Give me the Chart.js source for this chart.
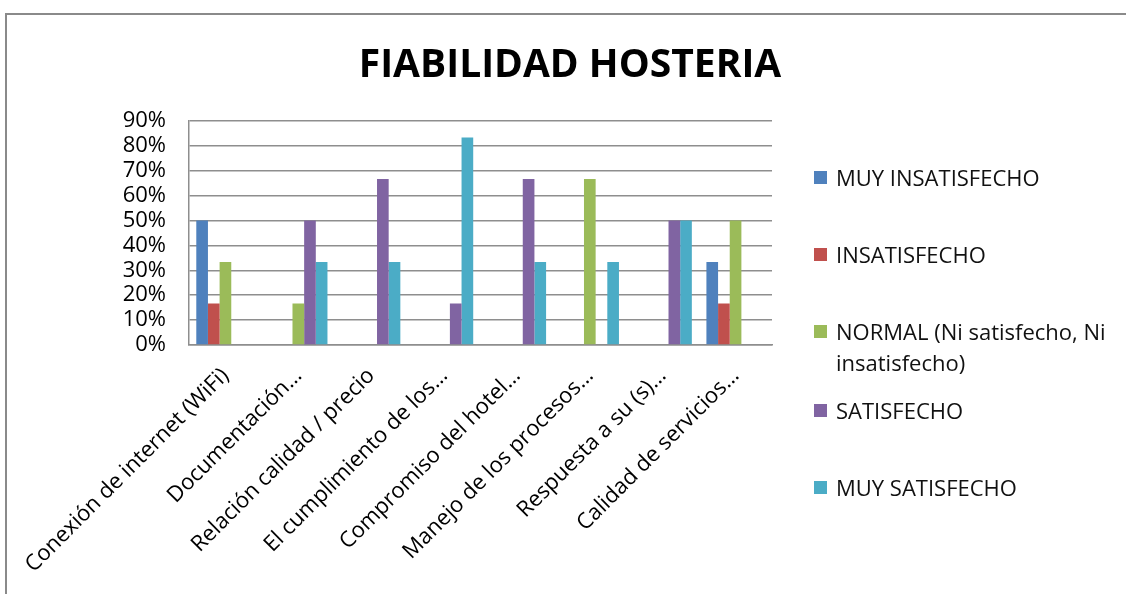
<!DOCTYPE html>
<html>
<head>
<meta charset="utf-8">
<script src="https://cdn.jsdelivr.net/npm/chart.js@4.4.1/dist/chart.umd.min.js"></script>
<style>
  html, body { margin: 0; padding: 0; background: #fff; overflow: hidden; }
  #wrap { position: relative; width: 1126px; height: 594px; }
  #frame { position: absolute; left: 5px; top: 13px; width: 1200px; height: 700px;
           border: 2px solid #8a8a8a; box-sizing: border-box; }
  #c { position: absolute; left: 0; top: 0; }
  #legend { position: absolute; left: 814px; top: 0; font-family: "Open Sans", sans-serif;
            font-size: 22px; color: #111; }
  .item { position: absolute; left: 0; width: 312px; display: flex; align-items: flex-start; }
  .box { width: 13px; height: 13px; margin-top: 9px; margin-right: 9px; flex: none; }
  .txt { line-height: 31px; width: 290px; }
</style>
</head>
<body>
<div id="wrap">
  <div id="frame"></div>
  <canvas id="c" width="1126" height="594"></canvas>
  <div id="legend"></div>
</div>
<script>
var categories = [
    "Conexión de internet (WiFi)",
    "Documentación…",
    "Relación calidad / precio",
    "El cumplimiento de los…",
    "Compromiso del hotel…",
    "Manejo de los procesos…",
    "Respuesta a su (s)…",
    "Calidad de servicios…"
];
var seriesLabels = [
    "MUY INSATISFECHO",
    "INSATISFECHO",
    "NORMAL (Ni satisfecho, Ni insatisfecho)",
    "SATISFECHO",
    "MUY SATISFECHO"
];
var muyInsatisfecho = [50, 0, 0, 0, 0, 0, 0, 33.33];
var insatisfecho    = [16.67, 0, 0, 0, 0, 0, 0, 16.67];
var normal          = [33.33, 16.67, 0, 0, 0, 66.67, 0, 50];
var satisfecho      = [0, 50, 66.67, 16.67, 66.67, 0, 50, 0];
var muySatisfecho   = [0, 33.33, 33.33, 83.33, 33.33, 33.33, 50, 0];
var yMin = 0, yMax = 90, yStep = 10;

var colors = ["#4F81BD", "#C0504D", "#9BBB59", "#8064A2", "#4BACC6"];
var values = [muyInsatisfecho, insatisfecho, normal, satisfecho, muySatisfecho];

var datasets = [];
for (var i = 0; i < values.length; i++) {
    datasets.push({
        label: seriesLabels[i],
        data: values[i],
        backgroundColor: colors[i],
        borderWidth: 0
    });
}

var ctx = document.getElementById('c').getContext('2d');
var myChart = new Chart(ctx, {
    type: 'bar',
    data: { labels: categories, datasets: datasets },
    options: {
        responsive: false,
        animation: false,
        layout: { padding: { left: 14, right: 0, top: 20, bottom: 0 } },
        datasets: { bar: { categoryPercentage: 0.8, barPercentage: 1.0 } },
        scales: {
            x: {
                grid: { display: false },
                border: { color: '#8e8e8e', width: 1.5 },
                ticks: {
                    autoSkip: false, maxRotation: 45, minRotation: 45,
                    color: '#000', padding: 10,
                    font: { family: 'Open Sans', size: 22 }
                },
                afterFit: function (s) { s.height = 249; s.paddingLeft = 0; s.paddingRight = 0; }
            },
            y: {
                min: yMin, max: yMax,
                grid: { color: '#8e8e8e', lineWidth: 1.5, drawTicks: false },
                border: { color: '#8e8e8e', width: 1.5 },
                ticks: {
                    stepSize: yStep, autoSkip: false,
                    color: '#000', padding: 23,
                    font: { family: 'Open Sans', size: 22, lineHeight: 1 },
                    callback: function (v) { return v + '%'; }
                },
                afterFit: function (s) { s.width = 175; }
            },
            yR: {
                type: 'linear', position: 'right', display: true,
                grid: { drawOnChartArea: false, drawTicks: false },
                border: { display: false },
                ticks: { display: false },
                afterFit: function (s) { s.width = 354; }
            }
        },
        plugins: {
            legend: { display: false },
            tooltip: { enabled: false },
            title: {
                display: true,
                text: 'FIABILIDAD HOSTERIA',
                color: '#000',
                font: { family: 'Open Sans', size: 39, weight: 'bold' },
                padding: { top: 22, bottom: 32 }
            }
        }
    }
});

// legend built from the series names and colours
var tops = [162, 239, 316, 395, 472];
var lg = document.getElementById('legend');
for (var j = 0; j < seriesLabels.length; j++) {
    var it = document.createElement('div');
    it.className = 'item';
    it.style.top = tops[j] + 'px';
    var b = document.createElement('div');
    b.className = 'box';
    b.style.background = colors[j];
    var t = document.createElement('div');
    t.className = 'txt';
    t.textContent = seriesLabels[j];
    it.appendChild(b);
    it.appendChild(t);
    lg.appendChild(it);
}
</script>
</body>
</html>
